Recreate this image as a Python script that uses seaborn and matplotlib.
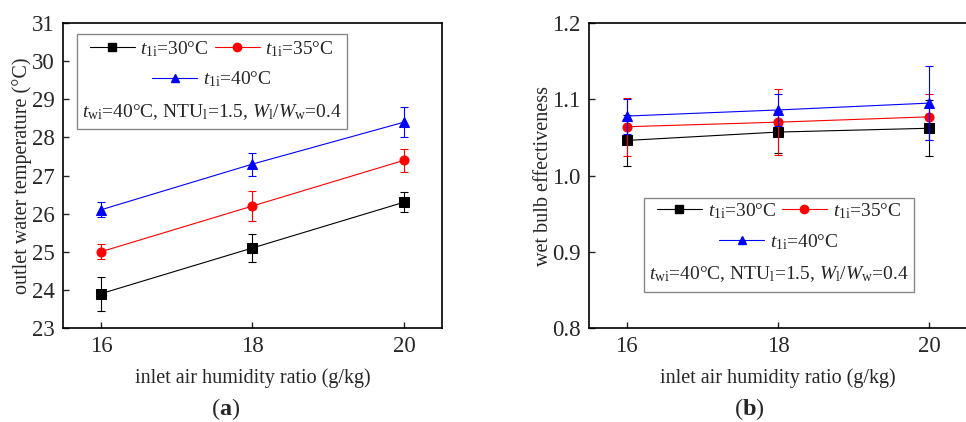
import numpy as np
import pandas as pd
import matplotlib
matplotlib.use('Agg')
import matplotlib.pyplot as plt
from matplotlib.lines import Line2D
from matplotlib.patches import Rectangle
import seaborn as sns

# data
humidity = [16, 18, 20]
series_labels = ['30', '35', '40']

# (a) outlet water temperature (°C)
temp_30 = [23.9, 25.1, 26.3]
temp_35 = [25.0, 26.2, 27.4]
temp_40 = [26.1, 27.3, 28.4]
temp_err_30 = [0.45, 0.36, 0.26]
temp_err_35 = [0.20, 0.40, 0.30]
temp_err_40 = [0.20, 0.30, 0.40]

# (b) wet bulb effectiveness
eff_30 = [1.046, 1.057, 1.062]
eff_35 = [1.064, 1.070, 1.077]
eff_40 = [1.078, 1.086, 1.095]
eff_err_30 = [0.034, 0.028, 0.037]
eff_err_35 = [0.038, 0.043, 0.030]
eff_err_40 = [0.023, 0.021, 0.049]

sns.set_style('ticks')
plt.rcParams['font.family'] = ['Liberation Serif', 'DejaVu Serif']
plt.rcParams['mathtext.fontset'] = 'custom'
plt.rcParams['mathtext.rm'] = 'Liberation Serif'
plt.rcParams['mathtext.it'] = 'Liberation Serif:italic'
plt.rcParams['mathtext.bf'] = 'Liberation Serif:bold'

colors = ['black', '#ff0000', '#0000ff']
markers = ['s', 'o', '^']
legend_labels = [r'$t_{\mathrm{1i}}$=%s°C' % s for s in series_labels]
cond_text = (r'$t_{\mathrm{wi}}$=40°C, NTU$_{\mathrm{l}}$=1.5, '
             r'$W_{\mathrm{l}}/W_{\mathrm{w}}$=0.4')

fig = plt.figure(figsize=(9.66, 4.22), dpi=100)
ax_a = fig.add_axes([0.0652, 0.2227, 0.3923, 0.7227])
ax_b = fig.add_axes([0.6097, 0.2227, 0.3913, 0.7227])


def draw_panel(ax, ys, errs):
    for y, e, c, m in zip(ys, errs, colors, markers):
        sns.lineplot(x=humidity, y=y, ax=ax, color=c, marker=m, markersize=6.5,
                     markeredgecolor=c, linewidth=0.8, legend=False)
        ax.errorbar(humidity, y, yerr=e, fmt='none', ecolor=c,
                    elinewidth=0.8, capsize=3, capthick=0.8)
    ax.set_xlim(15.5, 20.5)
    ax.set_xticks(humidity)
    ax.tick_params(direction='in', length=4, width=1, labelsize=16.5, pad=6)
    for s in ax.spines.values():
        s.set_linewidth(1.2)
        s.set_color('black')
    ax.set_xlabel('inlet air humidity ratio (g/kg)', fontsize=14.5, labelpad=8)


def draw_legend(ax, x0, x1, y0, y1, rows_y, cx):
    handles = [Line2D([], [], color=c, marker=m, markersize=6, linewidth=0.8)
               for c, m in zip(colors, markers)]
    leg1 = ax.legend(handles[:2], legend_labels[:2], ncol=2, loc='center',
                     bbox_to_anchor=(cx, rows_y[0]), frameon=False, fontsize=14,
                     handlelength=2.3, columnspacing=0.3, handletextpad=0.3,
                     borderpad=0, borderaxespad=0)
    ax.add_artist(leg1)
    ax.legend(handles[2:], legend_labels[2:], loc='center',
              bbox_to_anchor=(cx, rows_y[1]), frameon=False, fontsize=14,
              handlelength=2.3, handletextpad=0.3,
              borderpad=0, borderaxespad=0)
    ax.text(cx, rows_y[2], cond_text, transform=ax.transAxes, ha='center',
            va='center', fontsize=14)
    ax.add_patch(Rectangle((x0, y0), x1 - x0, y1 - y0, transform=ax.transAxes,
                           fill=False, edgecolor='#888888', linewidth=1, zorder=5))


# panel (a)
draw_panel(ax_a, [temp_30, temp_35, temp_40],
           [temp_err_30, temp_err_35, temp_err_40])
ax_a.set_ylim(23, 31)
ax_a.set_yticks(range(23, 32))
ax_a.set_ylabel('outlet water temperature (°C)', fontsize=14.5)
ax_a.yaxis.set_label_coords(-0.082, 0.5)
draw_legend(ax_a, 0.037, 0.749, 0.652, 0.964, [0.915, 0.816, 0.708], 0.393)

# panel (b)
draw_panel(ax_b, [eff_30, eff_35, eff_40],
           [eff_err_30, eff_err_35, eff_err_40])
ax_b.set_ylim(0.8, 1.2)
ax_b.set_yticks([0.8, 0.9, 1.0, 1.1, 1.2])
ax_b.set_yticklabels(['0.8', '0.9', '1.0', '1.1', '1.2'])
ax_b.set_ylabel('wet bulb effectiveness', fontsize=14.5)
ax_b.yaxis.set_label_coords(-0.094, 0.5)
draw_legend(ax_b, 0.1455, 0.860, 0.118, 0.426, [0.384, 0.282, 0.177], 0.503)

fig.text(226 / 966, 1 - 409 / 422, r'($\mathbf{a}$)', ha='center', va='center',
         fontsize=17.5)
fig.text(749 / 966, 1 - 409 / 422, r'($\mathbf{b}$)', ha='center', va='center',
         fontsize=17.5)

fig.savefig('out.png', dpi=100)
plt.close(fig)
